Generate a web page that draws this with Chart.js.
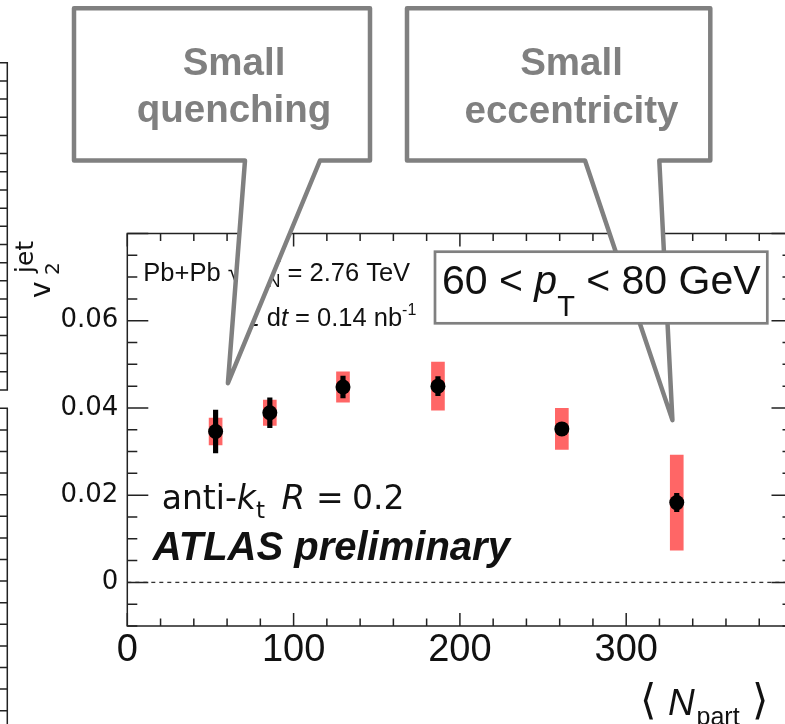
<!DOCTYPE html>
<html>
<head>
<meta charset="utf-8">
<script src="https://cdn.jsdelivr.net/npm/chart.js@4.4.1/dist/chart.umd.min.js"></script>
<style>
  html, body { margin: 0; padding: 0; background: #fff; width: 785px; height: 724px; overflow: hidden; }
  canvas { display: block; }
</style>
</head>
<body>
<canvas id="c" width="800" height="724" style="width:800px;height:724px"></canvas>
<script>
// jet v2 vs <N_part>, 60 < pT < 80 GeV, anti-kt R = 0.2
const nPart   = [53.1, 85.7, 129.7, 186.8, 261.3, 330.4];
const v2jet   = [0.0346, 0.0389, 0.0448, 0.0450, 0.0352, 0.0183];
const statErr = [0.0049, 0.0034, 0.0025, 0.0022, 0.0015, 0.0021];
const sysErr  = [0.0031, 0.0029, 0.0035, 0.0055, 0.0047, 0.0109];

const xRange = [0, 400];
const yRange = [-0.01, 0.08];
const xMinorStep = 20;
const yMinorStep = 0.005;
const xTickLabels = [0, 100, 200, 300];
const yTickLabels = [0, 0.02, 0.04, 0.06];

const INK = '#111';
const GREY = '#808080';
const SYS_RED = '#ff6666';

const points  = nPart.map((x, i) => ({ x, y: v2jet[i] }));
const statBar = nPart.map((x, i) => ({ x, y: [v2jet[i] - statErr[i], v2jet[i] + statErr[i]] }));
const sysBar  = nPart.map((x, i) => ({ x, y: [v2jet[i] - sysErr[i], v2jet[i] + sysErr[i]] }));
const zeroLine = [{ x: xRange[0], y: 0 }, { x: xRange[1], y: 0 }];

// draw a sequence of text pieces [text, font, dy, x]; x (optional) places a piece explicitly
function drawRuns(ctx, x, y, parts) {
  let cx = x;
  for (const [t, f, dy = 0, at] of parts) {
    if (at !== undefined) cx = at;
    ctx.font = f;
    ctx.fillText(t, cx, y + dy);
    cx += ctx.measureText(t).width;
  }
  return cx;
}
function runsWidth(ctx, parts) {
  let w = 0;
  for (const [t, f] of parts) { ctx.font = f; w += ctx.measureText(t).width; }
  return w;
}
function isMultiple(v, step) {
  return Math.abs(v / step - Math.round(v / step)) < 1e-6;
}

const frameAndTicks = {
  id: 'frameAndTicks',
  afterDatasetsDraw(chart) {
    const { ctx, chartArea: a, scales: { x, y } } = chart;
    ctx.save();
    ctx.strokeStyle = '#222';
    ctx.lineWidth = 1.5;
    ctx.strokeRect(a.left, a.top, a.right - a.left, a.bottom - a.top);
    ctx.beginPath();
    x.ticks.forEach(t => {
      const px = x.getPixelForValue(t.value);
      const len = isMultiple(t.value, 100) ? 13 : 7.5;
      ctx.moveTo(px, a.bottom); ctx.lineTo(px, a.bottom - len);
      ctx.moveTo(px, a.top);    ctx.lineTo(px, a.top + len);
    });
    y.ticks.forEach(t => {
      const py = y.getPixelForValue(t.value);
      const len = isMultiple(t.value, 0.02) ? 21 : 10;
      ctx.moveTo(a.left, py);  ctx.lineTo(a.left + len, py);
      ctx.moveTo(a.right, py); ctx.lineTo(a.right - len, py);
    });
    ctx.stroke();
    ctx.restore();
  }
};

const annotations = {
  id: 'annotations',
  afterDraw(chart) {
    const { ctx, chartArea: a, scales: { x, y } } = chart;
    ctx.save();

    // edge of the neighbouring panel on the left
    ctx.strokeStyle = '#222';
    ctx.lineWidth = 1.5;
    ctx.beginPath();
    const edgeX = 7.3;
    ctx.moveTo(0, 62.7); ctx.lineTo(edgeX, 62.7); ctx.lineTo(edgeX, 390); ctx.lineTo(0, 390);
    for (let i = 1; i < 18; i++) { const py = 62.7 + i * 18.18; ctx.moveTo(0, py); ctx.lineTo(edgeX, py); }
    ctx.moveTo(0, 408.3); ctx.lineTo(edgeX, 408.3); ctx.lineTo(edgeX, 724);
    for (let i = 1; i < 15; i++) { const py = 408.3 + i * 21.6; ctx.moveTo(0, py); ctx.lineTo(edgeX, py); }
    ctx.stroke();

    ctx.fillStyle = INK;
    ctx.textBaseline = 'alphabetic';
    ctx.textAlign = 'left';

    // y-axis title
    ctx.save();
    ctx.translate(50, 298);
    ctx.rotate(-Math.PI / 2);
    drawRuns(ctx, 0, 0, [['v', '28px "DejaVu Sans"']]);
    ctx.font = '20px "DejaVu Sans"';
    ctx.fillText('2', 23, 9);
    ctx.font = '25px "DejaVu Sans"';
    ctx.fillText('jet', 25, -17);
    ctx.restore();

    // x-axis title
    ctx.font = '42px "DejaVu Sans"';
    ctx.fillText('\u27E8', 640, 714);
    drawRuns(ctx, 668, 714.7, [['N', 'italic 37px "Liberation Sans"']]);
    drawRuns(ctx, 696.5, 725, [['part', '25px "Liberation Sans"']]);
    ctx.font = '42px "DejaVu Sans"';
    ctx.fillText('\u27E9', 752, 714);

    // collision system and luminosity
    const F = '25.5px "Liberation Sans"';
    const FI = 'italic 25.5px "Liberation Sans"';
    const FS = '18px "Liberation Sans"';
    const x0 = a.left + 16, b1 = a.top + 47;
    let cx = drawRuns(ctx, x0, b1, [['Pb+Pb ', F], ['\u221A', F]]);
    const rootStart = cx;
    cx = drawRuns(ctx, cx, b1, [['s', F], ['NN', FS, 6]]);
    ctx.fillRect(rootStart - 1, b1 - 20, cx - rootStart + 1, 1.5);
    drawRuns(ctx, cx, b1, [[' = 2.76 TeV', F]]);

    const b2 = a.top + 92;
    const pre = [['\u222B', '28px "DejaVu Sans"', 3], ['L ', FI]];
    const dX = 266.7;
    drawRuns(ctx, dX - runsWidth(ctx, pre), b2, pre.concat([['d', F], ['t', FI], [' = 0.14 nb', F], ['-1', '16px "Liberation Sans"', -11]]));

    // jet algorithm
    const FJ = '33px "DejaVu Sans"', FJI = 'oblique 33px "DejaVu Sans"';
    drawRuns(ctx, a.left + 34.4, 509.3, [
      ['anti-', FJ], ['k', FJI], ['t', '23px "DejaVu Sans"', 9],
      ['R', 'oblique 34px "DejaVu Sans"', 0, 281.5], ['=', FJ, 0, 316], ['0.2', FJ, 0, 352]
    ]);

    // experiment label
    ctx.font = 'italic bold 40px "Liberation Sans"';
    ctx.fillText('ATLAS preliminary', a.left + 25.5, 560);

    // speech-bubble callouts pointing into the plot
    function bubble(box, base, tip, lines, cxText) {
      ctx.beginPath();
      ctx.moveTo(box.l, box.t);
      ctx.lineTo(box.r, box.t);
      ctx.lineTo(box.r, box.b);
      ctx.lineTo(base[1], box.b);
      ctx.lineTo(tip.x, tip.y);
      ctx.lineTo(base[0], box.b);
      ctx.lineTo(box.l, box.b);
      ctx.closePath();
      ctx.fillStyle = '#fff';
      ctx.fill();
      ctx.lineJoin = 'round';
      ctx.lineWidth = 4.5;
      ctx.strokeStyle = GREY;
      ctx.stroke();
      ctx.fillStyle = GREY;
      ctx.textAlign = 'center';
      ctx.font = 'bold 38.5px "Liberation Sans"';
      lines.forEach(([t, by]) => ctx.fillText(t, cxText, by));
      ctx.textAlign = 'left';
    }
    bubble({ l: 74, t: 8.3, r: 370, b: 160.5 }, [245, 320],
           { x: x.getPixelForValue(60.5), y: y.getPixelForValue(0.0457) },
           [['Small', 75], ['quenching', 121.7]], 234);
    bubble({ l: 407, t: 8.3, r: 710.3, b: 160.5 }, [585, 659.3],
           { x: x.getPixelForValue(327.8), y: y.getPixelForValue(0.0372) },
           [['Small', 75], ['eccentricity', 123.3]], 571.5);

    // kinematic selection box
    const kb = { l: 435, t: 251.7, r: 767.3, b: 323.3 };
    ctx.fillStyle = '#fff';
    ctx.fillRect(kb.l, kb.t, kb.r - kb.l, kb.b - kb.t);
    ctx.lineWidth = 2.7;
    ctx.strokeStyle = GREY;
    ctx.lineJoin = 'miter';
    ctx.strokeRect(kb.l, kb.t, kb.r - kb.l, kb.b - kb.t);
    ctx.fillStyle = INK;
    const FK = '41px "Liberation Sans"';
    drawRuns(ctx, kb.l + 7, kb.t + 42, [['60 < ', FK], ['p', 'italic 41px "Liberation Sans"'], ['T', '29px "Liberation Sans"', 22], [' < 80 GeV', FK]]);

    ctx.restore();
  }
};

new Chart(document.getElementById('c').getContext('2d'), {
  type: 'scatter',
  data: {
    datasets: [
      { type: 'scatter', label: 'v2 jet', data: points, pointRadius: 7.5, pointHoverRadius: 7.5,
        backgroundColor: '#000', borderWidth: 0, order: 0 },
      { type: 'bar', label: 'statistical', data: statBar, backgroundColor: '#000',
        barThickness: 4.5, grouped: false, borderWidth: 0, order: 1 },
      { type: 'bar', label: 'systematic', data: sysBar, backgroundColor: SYS_RED,
        barThickness: 13, grouped: false, borderWidth: 0, order: 2 },
      { type: 'line', label: 'zero', data: zeroLine, borderColor: '#333', borderWidth: 1.3,
        borderDash: [4, 4], pointRadius: 0, fill: false, order: 3 }
    ]
  },
  options: {
    responsive: false,
    devicePixelRatio: 1,
    animation: false,
    events: [],
    layout: { padding: { top: 233.5, right: 7, left: 0, bottom: 0 } },
    plugins: { legend: { display: false }, tooltip: { enabled: false } },
    scales: {
      x: {
        type: 'linear', min: xRange[0], max: xRange[1], offset: false,
        grid: { display: false, drawTicks: false, offset: false },
        border: { display: false },
        ticks: {
          stepSize: xMinorStep, autoSkip: false, maxRotation: 0, padding: 2,
          color: INK, font: { family: 'Liberation Sans', size: 38 },
          callback: v => (xTickLabels.includes(v) ? String(v) : '')
        },
        afterFit: s => { s.height = 98; }
      },
      y: {
        type: 'linear', min: yRange[0], max: yRange[1],
        grid: { display: false, drawTicks: false },
        border: { display: false },
        ticks: {
          stepSize: yMinorStep, autoSkip: false, padding: 9,
          color: INK, font: { family: 'DejaVu Sans', size: 26 },
          callback: v => {
            const hit = yTickLabels.find(t => Math.abs(t - v) < 1e-9);
            return hit === undefined ? '' : String(hit);
          }
        },
        afterFit: s => { s.width = 127.3; }
      }
    }
  },
  plugins: [frameAndTicks, annotations]
});
</script>
</body>
</html>
